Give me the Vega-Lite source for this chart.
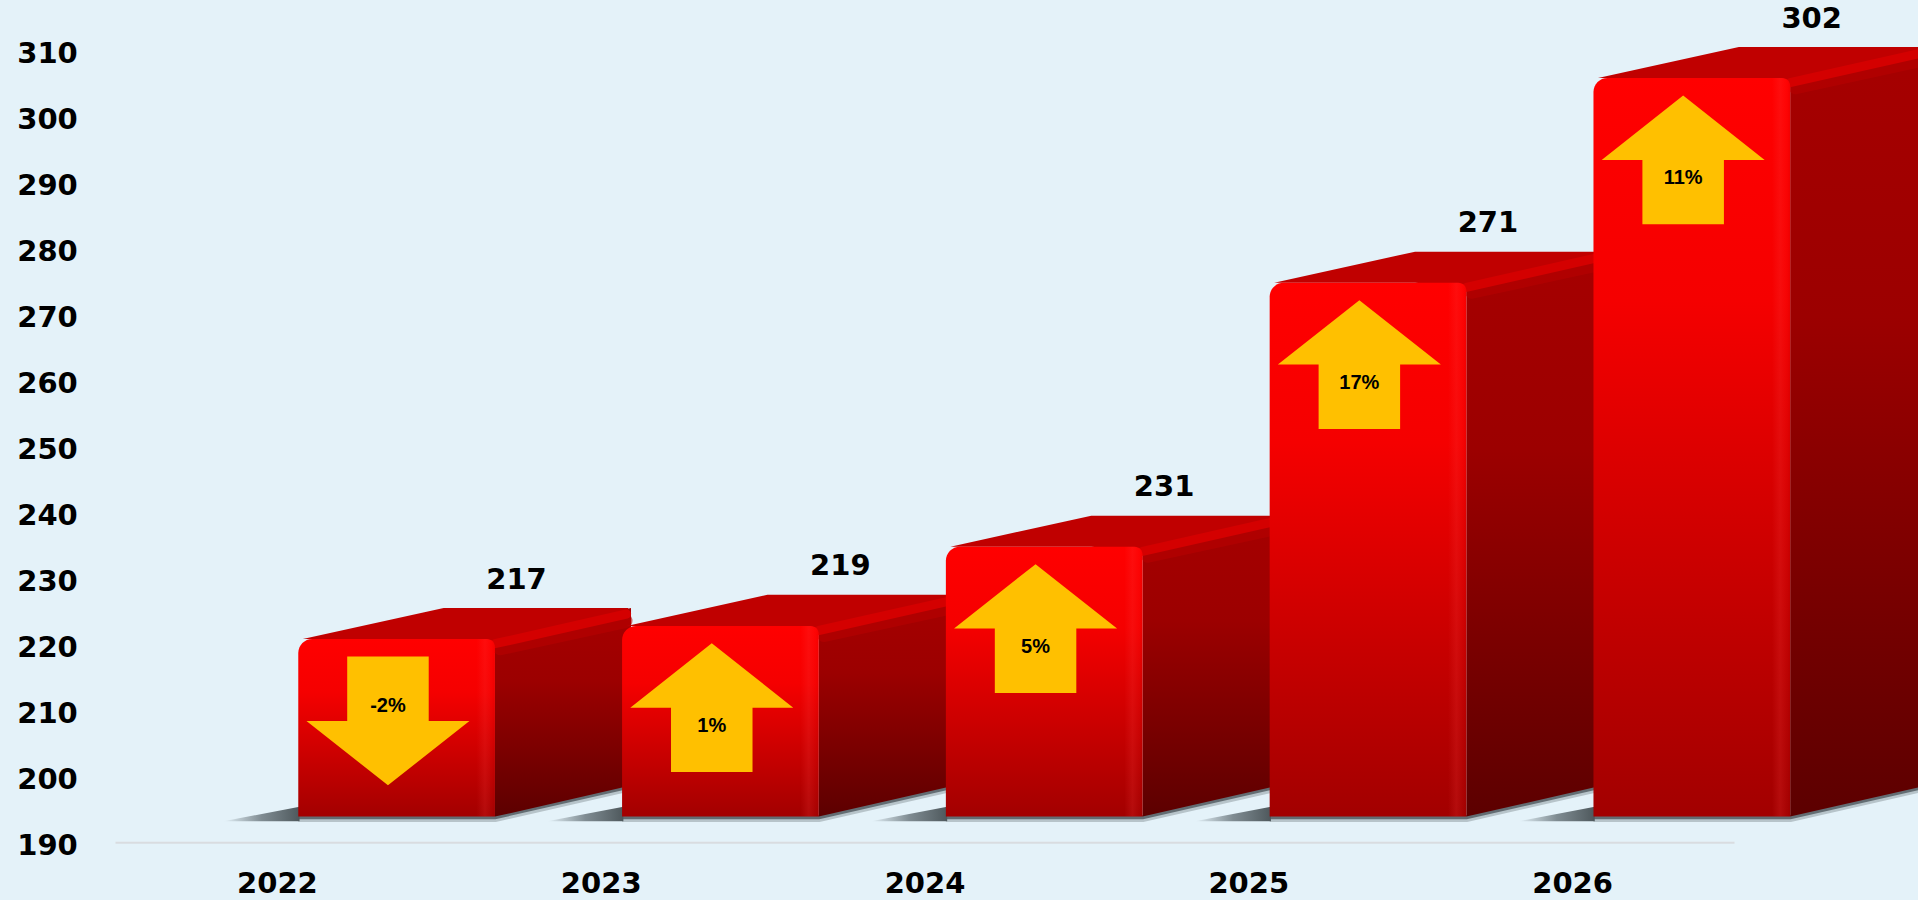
{
"$schema":"https://vega.github.io/schema/vega-lite/v6.json",
"width":1918,"height":900,"padding":0,"autosize":{"type":"none"},
"background":"#E4F2F9",
"config":{
 "view":{"stroke":null},
 "axisX":{"orient":"bottom","offset":-57.7,"ticks":false,"tickSize":0,"grid":false,"domain":true,"domainColor":"#D9DCE0","domainWidth":2,"labelPadding":40.7,"labelBaseline":"middle","labelFont":"DejaVu Sans","labelFontWeight":"bold","labelFontSize":29,"labelColor":"#000000","labelOverlap":false,"labelFlush":false},
 "axisY":{"orient":"left","ticks":false,"tickSize":0,"grid":false,"domain":false,"labelAlign":"left","labelBaseline":"middle","labelPadding":-16.7,"labelFont":"DejaVu Sans","labelFontWeight":"bold","labelFontSize":29,"labelColor":"#000000","labelOverlap":false,"labelFlush":false}
},
"data":{"values":[
{"year":2022,"value":217,"change":-2},
{"year":2023,"value":219,"change":1},
{"year":2024,"value":231,"change":5},
{"year":2025,"value":271,"change":17},
{"year":2026,"value":302,"change":11}
]},
"layer":[
{"mark":{"type":"line","stroke":"#4E585C","strokeWidth":7,"opacity":0.3,"strokeJoin":"round"},
 "transform":[{"calculate":"[0.066,0.6735,1.0935]","as":"dx"},{"calculate":"[194.0,194.0,198.7]","as":"py"},{"flatten":["dx","py"]},{"calculate":"datum.year+datum.dx","as":"px"}],
 "encoding":{
  "x":{"field":"px","type":"quantitative","scale":{"domain":[2021.5,2026.5],"range":[115,1734]},"title":null,"axis":{"values":[2022,2023,2024,2025,2026],"format":"d"}},
  "y":{"field":"py","type":"quantitative","scale":{"domain":[190,310],"range":[845,53],"zero":false,"nice":false},"title":null,"axis":{"values":[190,200,210,220,230,240,250,260,270,280,290,300,310]}},
  "detail":{"field":"year","type":"nominal"}}},
{"mark":{"type":"line","stroke":"#4E585C","strokeWidth":4,"opacity":0.8,"strokeJoin":"round"},
 "transform":[{"calculate":"[0.066,0.6735,1.0935]","as":"dx"},{"calculate":"[194.2,194.2,198.9]","as":"py"},{"flatten":["dx","py"]},{"calculate":"datum.year+datum.dx","as":"px"}],
 "encoding":{
  "x":{"field":"px","type":"quantitative","scale":{"domain":[2021.5,2026.5],"range":[115,1734]},"title":null,"axis":{"values":[2022,2023,2024,2025,2026],"format":"d"}},
  "y":{"field":"py","type":"quantitative","scale":{"domain":[190,310],"range":[845,53],"zero":false,"nice":false},"title":null,"axis":{"values":[190,200,210,220,230,240,250,260,270,280,290,300,310]}},
  "detail":{"field":"year","type":"nominal"}}},
{"mark":{"type":"area","color":{"gradient":"linear","x1":0,"y1":0,"x2":1,"y2":0,"stops":[{"offset":0,"color":"rgba(84,96,102,0)"},{"offset":0.5,"color":"rgba(84,96,102,0.7)"},{"offset":1,"color":"#4E585C"}]}},
 "transform":[{"calculate":"[-0.165,0.07]","as":"dx"},{"calculate":"[193.6,195.8]","as":"up"},{"flatten":["dx","up"]},{"calculate":"datum.year+datum.dx","as":"px"},{"calculate":"193.6","as":"lo"}],
 "encoding":{
  "x":{"field":"px","type":"quantitative","scale":{"domain":[2021.5,2026.5],"range":[115,1734]},"title":null,"axis":{"values":[2022,2023,2024,2025,2026],"format":"d"}},
  "y":{"field":"up","type":"quantitative","stack":null,"scale":{"domain":[190,310],"range":[845,53],"zero":false,"nice":false},"title":null,"axis":{"values":[190,200,210,220,230,240,250,260,270,280,290,300,310]}},
  "y2":{"field":"lo"},
  "detail":{"field":"year","type":"nominal"}}},
{"mark":{"type":"area","color":{"gradient":"linear","x1":0,"y1":0,"x2":0,"y2":1,"stops":[{"offset":0,"color":"#A60000"},{"offset":0.35,"color":"#9C0000"},{"offset":1,"color":"#5C0000"}]}},
 "transform":[{"calculate":"[0.6735,1.0935]","as":"dx"},{"calculate":"[4.2,8.9]","as":"up"},{"calculate":"[194.3,199]","as":"lo"},{"flatten":["dx","up","lo"]},{"calculate":"datum.year+datum.dx","as":"px"},{"calculate":"datum.value+datum.up","as":"py"}],
 "encoding":{
  "x":{"field":"px","type":"quantitative","scale":{"domain":[2021.5,2026.5],"range":[115,1734]},"title":null,"axis":{"values":[2022,2023,2024,2025,2026],"format":"d"}},
  "y":{"field":"py","type":"quantitative","stack":null,"scale":{"domain":[190,310],"range":[845,53],"zero":false,"nice":false},"title":null,"axis":{"values":[190,200,210,220,230,240,250,260,270,280,290,300,310]}},
  "y2":{"field":"lo"},
  "detail":{"field":"year","type":"nominal"}}},
{"mark":{"type":"line","stroke":"#B80000","strokeWidth":15,"strokeCap":"round","opacity":0.6},
 "transform":[{"calculate":"[0.69,1.075]","as":"dx"},{"calculate":"[2.9,7.0]","as":"up"},{"flatten":["dx","up"]},{"calculate":"datum.year+datum.dx","as":"px"},{"calculate":"datum.value+datum.up","as":"py"}],
 "encoding":{
  "x":{"field":"px","type":"quantitative","scale":{"domain":[2021.5,2026.5],"range":[115,1734]},"title":null,"axis":{"values":[2022,2023,2024,2025,2026],"format":"d"}},
  "y":{"field":"py","type":"quantitative","scale":{"domain":[190,310],"range":[845,53],"zero":false,"nice":false},"title":null,"axis":{"values":[190,200,210,220,230,240,250,260,270,280,290,300,310]}},
  "detail":{"field":"year","type":"nominal"}}},
{"mark":{"type":"area","color":"#C00000"},
 "transform":[{"calculate":"[0.08,0.515,0.6735,1.085]","as":"dx"},{"calculate":"[4.2,8.9,8.9,8.9]","as":"up"},{"calculate":"[4.2,4.2,3.6,8.2]","as":"lo"},{"flatten":["dx","up","lo"]},{"calculate":"datum.year+datum.dx","as":"px"},{"calculate":"datum.value+datum.up","as":"py"},{"calculate":"datum.value+datum.lo","as":"pl"}],
 "encoding":{
  "x":{"field":"px","type":"quantitative","scale":{"domain":[2021.5,2026.5],"range":[115,1734]},"title":null,"axis":{"values":[2022,2023,2024,2025,2026],"format":"d"}},
  "y":{"field":"py","type":"quantitative","stack":null,"scale":{"domain":[190,310],"range":[845,53],"zero":false,"nice":false},"title":null,"axis":{"values":[190,200,210,220,230,240,250,260,270,280,290,300,310]}},
  "y2":{"field":"pl"},
  "detail":{"field":"year","type":"nominal"}}},
{"mark":{"type":"line","stroke":"#D40000","strokeWidth":9,"strokeCap":"round"},
 "transform":[{"calculate":"[0.6735,1.08]","as":"dx"},{"calculate":"[3.5,8.0]","as":"up"},{"flatten":["dx","up"]},{"calculate":"datum.year+datum.dx","as":"px"},{"calculate":"datum.value+datum.up","as":"py"}],
 "encoding":{
  "x":{"field":"px","type":"quantitative","scale":{"domain":[2021.5,2026.5],"range":[115,1734]},"title":null,"axis":{"values":[2022,2023,2024,2025,2026],"format":"d"}},
  "y":{"field":"py","type":"quantitative","scale":{"domain":[190,310],"range":[845,53],"zero":false,"nice":false},"title":null,"axis":{"values":[190,200,210,220,230,240,250,260,270,280,290,300,310]}},
  "detail":{"field":"year","type":"nominal"}}},
{"mark":{"type":"rect","cornerRadiusTopLeft":14,"cornerRadiusTopRight":8,"color":{"gradient":"linear","x1":0,"y1":0,"x2":0,"y2":1,"stops":[{"offset":0,"color":"#FF0000"},{"offset":0.3,"color":"#F50000"},{"offset":1,"color":"#A20000"}]}},
 "transform":[{"calculate":"datum.year+0.066","as":"xl"},{"calculate":"datum.year+0.6735","as":"xr"},{"calculate":"datum.value+4.2","as":"top"}],
 "encoding":{
  "x":{"field":"xl","type":"quantitative","scale":{"domain":[2021.5,2026.5],"range":[115,1734]},"title":null,"axis":{"values":[2022,2023,2024,2025,2026],"format":"d"}},
  "x2":{"field":"xr"},
  "y":{"field":"top","type":"quantitative","scale":{"domain":[190,310],"range":[845,53],"zero":false,"nice":false},"title":null,"axis":{"values":[190,200,210,220,230,240,250,260,270,280,290,300,310]}},
  "y2":{"datum":194.3}}},
{"mark":{"type":"rect","cornerRadiusTopRight":8,"color":{"gradient":"linear","x1":0,"y1":0,"x2":1,"y2":0,"stops":[{"offset":0,"color":"rgba(255,70,70,0)"},{"offset":0.45,"color":"rgba(255,70,70,0.18)"},{"offset":0.8,"color":"rgba(255,70,70,0.06)"},{"offset":1,"color":"rgba(120,0,0,0.08)"}]}},
 "transform":[{"calculate":"datum.year+0.617","as":"xl"},{"calculate":"datum.year+0.6735","as":"xr"},{"calculate":"datum.value+4.2","as":"top"}],
 "encoding":{
  "x":{"field":"xl","type":"quantitative","scale":{"domain":[2021.5,2026.5],"range":[115,1734]},"title":null,"axis":{"values":[2022,2023,2024,2025,2026],"format":"d"}},
  "x2":{"field":"xr"},
  "y":{"field":"top","type":"quantitative","scale":{"domain":[190,310],"range":[845,53],"zero":false,"nice":false},"title":null,"axis":{"values":[190,200,210,220,230,240,250,260,270,280,290,300,310]}},
  "y2":{"datum":194.3}}},
{"mark":{"type":"point","filled":true,"color":"#FFC000","opacity":1,"size":26569,"strokeWidth":0},
 "transform":[{"calculate":"datum.year+0.343","as":"px"},{"calculate":"datum.value-8.2","as":"py"},{"calculate":"datum.change<0?'down':'up'","as":"dir"}],
 "encoding":{
  "x":{"field":"px","type":"quantitative","scale":{"domain":[2021.5,2026.5],"range":[115,1734]},"title":null,"axis":{"values":[2022,2023,2024,2025,2026],"format":"d"}},
  "y":{"field":"py","type":"quantitative","scale":{"domain":[190,310],"range":[845,53],"zero":false,"nice":false},"title":null,"axis":{"values":[190,200,210,220,230,240,250,260,270,280,290,300,310]}},
  "shape":{"field":"dir","type":"nominal","legend":null,"scale":{"domain":["up","down"],"range":["M-0.5,0.79L0.5,0.79L0.5,0L1,0L0,-0.79L-1,0L-0.5,0Z","M-0.5,-0.79L0.5,-0.79L0.5,0L1,0L0,0.79L-1,0L-0.5,0Z"]}}}},
{"mark":{"type":"text","font":"Liberation Sans","fontWeight":"bold","fontSize":20,"color":"#000000","baseline":"middle","align":"center"},
 "transform":[{"calculate":"datum.year+0.343","as":"px"},{"calculate":"datum.change<0?datum.value-6:datum.value-11","as":"py"},{"calculate":"datum.change+'%'","as":"label"}],
 "encoding":{
  "x":{"field":"px","type":"quantitative","scale":{"domain":[2021.5,2026.5],"range":[115,1734]},"title":null,"axis":{"values":[2022,2023,2024,2025,2026],"format":"d"}},
  "y":{"field":"py","type":"quantitative","scale":{"domain":[190,310],"range":[845,53],"zero":false,"nice":false},"title":null,"axis":{"values":[190,200,210,220,230,240,250,260,270,280,290,300,310]}},
  "text":{"field":"label","type":"nominal"}}},
{"mark":{"type":"text","font":"DejaVu Sans","fontWeight":"bold","fontSize":29,"color":"#000000","baseline":"middle","align":"center"},
 "transform":[{"calculate":"datum.year+0.74","as":"px"},{"calculate":"datum.value+13.2","as":"py"}],
 "encoding":{
  "x":{"field":"px","type":"quantitative","scale":{"domain":[2021.5,2026.5],"range":[115,1734]},"title":null,"axis":{"values":[2022,2023,2024,2025,2026],"format":"d"}},
  "y":{"field":"py","type":"quantitative","scale":{"domain":[190,310],"range":[845,53],"zero":false,"nice":false},"title":null,"axis":{"values":[190,200,210,220,230,240,250,260,270,280,290,300,310]}},
  "text":{"field":"value","type":"quantitative"}}}
]}
